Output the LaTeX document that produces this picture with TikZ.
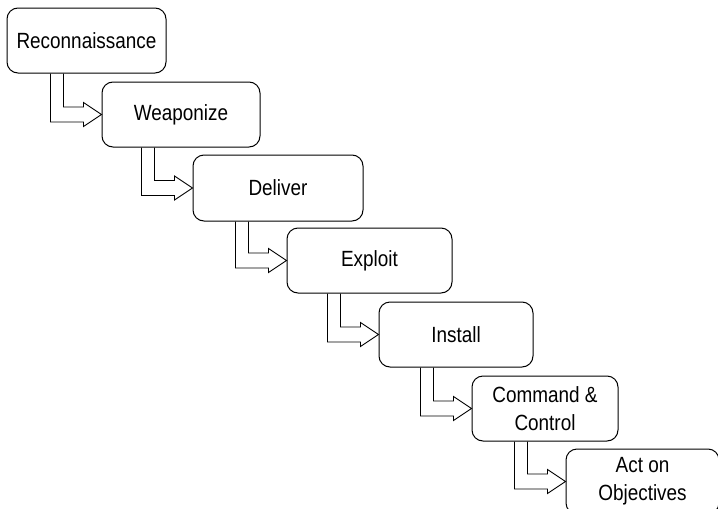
\documentclass[tikz,border=0pt]{standalone}
\usepackage{fontspec}
\setmainfont{Liberation Sans}[FakeStretch=0.86]
\usetikzlibrary{calc}
\tikzset{
  stagebox/.style={draw=black, line width=1pt, rounded corners=11pt, fill=white,
    align=center, inner sep=0pt, font=\fontsize{22}{28}\selectfont},
  bentarrow/.style={draw=black, line width=0.9pt, line join=miter},
}
\newcommand{\bentarr}[2]{%
  \draw[bentarrow] let \p1=(#1.south), \p2=(#2.west) in
    (\x2-51pt,\y1) -- (\x2-51pt,\y2-7.5pt) -- (\x2-18pt,\y2-7.5pt)
    -- (\x2-18pt,\y2-12pt) -- (\x2,\y2) -- (\x2-18pt,\y2+12pt)
    -- (\x2-18pt,\y2+7.5pt) -- (\x2-38pt,\y2+7.5pt) -- (\x2-38pt,\y1);}
\begin{document}
\begin{tikzpicture}[x=1pt,y=-1pt]
\useasboundingbox (0,0) rectangle (718,509);
\clip (0,0) rectangle (718,509);
\fill[white] (0,0) rectangle (718,509);
\node[stagebox, minimum width=159pt, minimum height=65pt] (n1) at (86.5,40.5) {Reconnaissance};
\node[stagebox, minimum width=158pt, minimum height=65pt] (n2) at (181,114.5) {Weaponize};
\node[stagebox, minimum width=170pt, minimum height=66pt] (n3) at (278,188) {Deliver};
\node[stagebox, minimum width=165pt, minimum height=65pt] (n4) at (369.5,260.5) {Exploit};
\node[stagebox, minimum width=154pt, minimum height=65pt] (n5) at (456,334.5) {Install};
\node[stagebox, minimum width=146pt, minimum height=65pt] (n6) at (545,408.5) {Command \&\\Control};
\node[stagebox, minimum width=153pt, minimum height=65pt] (n7) at (642.5,481.5) {Act on\\Objectives};
\bentarr{n1}{n2}
\bentarr{n2}{n3}
\bentarr{n3}{n4}
\bentarr{n4}{n5}
\bentarr{n5}{n6}
\bentarr{n6}{n7}
\end{tikzpicture}
\end{document}
